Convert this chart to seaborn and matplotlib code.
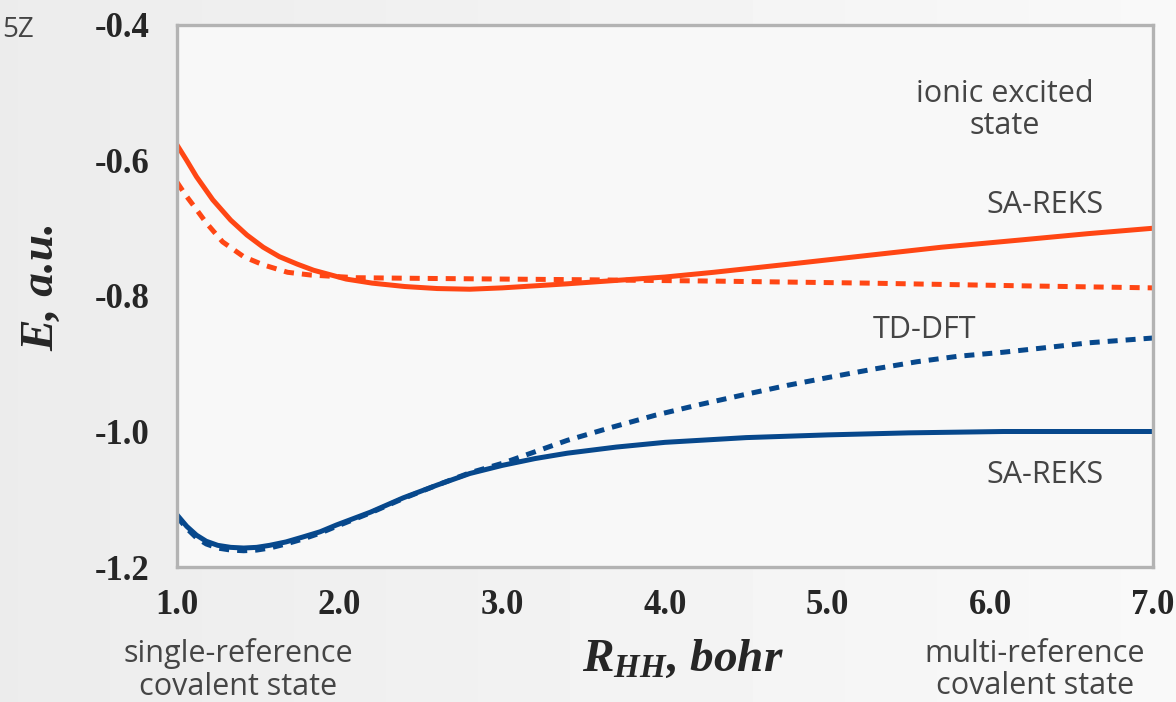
import numpy as np
import pandas as pd
import seaborn as sns
import matplotlib.pyplot as plt

# H2 potential energy curves
red_solid_x = [1.0, 1.06, 1.12, 1.22, 1.33, 1.43, 1.53, 1.63, 1.74, 1.84, 2.04, 2.2, 2.4, 2.6, 2.8,
               3.0, 3.2, 3.4, 3.7, 4.0, 4.3, 4.8, 5.25, 5.7, 6.2, 6.6, 7.0]
red_solid_y = [-0.577, -0.600, -0.624, -0.658, -0.688, -0.710, -0.728, -0.742, -0.753, -0.762, -0.775,
               -0.781, -0.786, -0.789, -0.790, -0.788, -0.785, -0.782, -0.777, -0.772, -0.765, -0.752,
               -0.740, -0.728, -0.717, -0.708, -0.700]

red_dash_x = [1.0, 1.05, 1.10, 1.18, 1.28, 1.41, 1.53, 1.68, 1.82, 2.1, 2.5, 3.0, 3.5, 4.3, 5.25, 6.2, 7.0]
red_dash_y = [-0.632, -0.650, -0.666, -0.692, -0.720, -0.742, -0.754, -0.765, -0.769, -0.773, -0.774,
              -0.775, -0.776, -0.778, -0.781, -0.785, -0.788]

blue_solid_x = [1.0, 1.06, 1.12, 1.18, 1.25, 1.33, 1.41, 1.49, 1.57, 1.67, 1.77, 1.88, 1.98, 2.19, 2.39,
                2.60, 2.80, 3.0, 3.2, 3.4, 3.7, 4.0, 4.5, 5.0, 5.5, 6.08, 7.0]
blue_solid_y = [-1.123, -1.140, -1.153, -1.162, -1.168, -1.171, -1.172, -1.171, -1.168, -1.163, -1.156,
                -1.148, -1.138, -1.119, -1.098, -1.079, -1.062, -1.050, -1.040, -1.032, -1.023, -1.016,
                -1.009, -1.005, -1.002, -1.000, -1.000]

blue_dash_x = [1.0, 1.06, 1.12, 1.18, 1.25, 1.33, 1.41, 1.49, 1.57, 1.67, 1.77, 1.88, 1.98, 2.19, 2.39,
               2.60, 2.80, 3.0, 3.2, 3.4, 3.67, 3.94, 4.2, 4.48, 4.75, 5.01, 5.28, 5.55, 5.8, 6.08,
               6.35, 6.61, 7.0]
blue_dash_y = [-1.126, -1.143, -1.157, -1.166, -1.172, -1.175, -1.176, -1.175, -1.172, -1.166, -1.159,
               -1.150, -1.140, -1.120, -1.099, -1.079, -1.061, -1.047, -1.030, -1.013, -0.994, -0.976,
               -0.961, -0.946, -0.932, -0.920, -0.908, -0.897, -0.889, -0.883, -0.876, -0.869, -0.862]

x_ticks = [1.0, 2.0, 3.0, 4.0, 5.0, 6.0, 7.0]
y_ticks = [-0.4, -0.6, -0.8, -1.0, -1.2]

RED = '#ff4614'
BLUE = '#07488c'
NOTE = '#454545'

sns.set_style('white')
plt.rcParams['font.family'] = ['Liberation Serif', 'DejaVu Serif']
plt.rcParams['mathtext.fontset'] = 'custom'
plt.rcParams['mathtext.it'] = 'Liberation Serif:italic:bold'
plt.rcParams['mathtext.rm'] = 'Liberation Serif:bold'

fig = plt.figure(figsize=(11.76, 7.02), dpi=100)
fig.patch.set_facecolor('#f0f0f0')

# soft grey backdrop, darker on the left
bg = fig.add_axes([0, 0, 1, 1], zorder=-5)
grad = np.linspace(0.925, 0.975, 256).reshape(1, -1)
bg.imshow(grad, aspect='auto', cmap='gray', vmin=0, vmax=1, extent=[0, 1, 0, 1])
bg.axis('off')

ax = fig.add_axes([0.1505, 0.1923, 0.8299, 0.7721])
ax.set_facecolor('#f8f8f8')

curves = [
    (red_solid_x, red_solid_y, RED, '-'),
    (red_dash_x, red_dash_y, RED, '--'),
    (blue_solid_x, blue_solid_y, BLUE, '-'),
    (blue_dash_x, blue_dash_y, BLUE, '--'),
]
for xs, ys, col, ls in curves:
    df = pd.DataFrame({'R': xs, 'E': ys})
    sns.lineplot(data=df, x='R', y='E', ax=ax, color=col, linewidth=3.6, linestyle=ls)
    if ls == '--':
        ax.lines[-1].set_dashes((2.0, 1.6))

ax.set_xlim(1.0, 7.0)
ax.set_ylim(-1.2, -0.4)
ax.set_xticks(x_ticks)
ax.set_xticklabels([f'{v:.1f}' for v in x_ticks])
ax.set_yticks(y_ticks)
ax.set_yticklabels([f'{v:.1f}' for v in y_ticks])
ax.tick_params(axis='both', length=0, labelsize=25, pad=16)
ax.tick_params(axis='y', pad=20)
for lab in ax.get_xticklabels() + ax.get_yticklabels():
    lab.set_fontweight('bold')
ax.set_xlabel('')
ax.set_ylabel('')
for sp in ax.spines.values():
    sp.set_color('#b3b3b3')
    sp.set_linewidth(2.4)

# axis titles
fig.text(0.036, 1 - 287 / 702, 'E, a.u.', rotation=90, ha='center', va='center',
         fontsize=34, fontweight='bold', fontstyle='italic')
fig.text(683 / 1176, 1 - 660 / 702, r'$R_{HH}$, bohr', ha='center', va='center',
         fontsize=34, fontweight='bold', fontstyle='italic')

# annotations
note = dict(color=NOTE, fontsize=22, family=['Open Sans', 'DejaVu Sans'], ha='center', va='center')
fig.text(1005 / 1176, 1 - 110 / 702, 'ionic excited\nstate', linespacing=1.1, **note)
fig.text(1045 / 1176, 1 - 205 / 702, 'SA-REKS', **note)
fig.text(925 / 1176, 1 - 330 / 702, 'TD-DFT', **note)
fig.text(1045 / 1176, 1 - 475 / 702, 'SA-REKS', **note)
fig.text(238 / 1176, 1 - 670 / 702, 'single-reference\ncovalent state', linespacing=1.1, **note)
fig.text(1035 / 1176, 1 - 670 / 702, 'multi-reference\ncovalent state', linespacing=1.1, **note)
fig.text(0.002, 1 - 30 / 702, '5Z', color=NOTE, fontsize=20, family=['Open Sans', 'DejaVu Sans'],
         ha='left', va='center')

fig.savefig('out.png', dpi=100, facecolor=fig.get_facecolor())
